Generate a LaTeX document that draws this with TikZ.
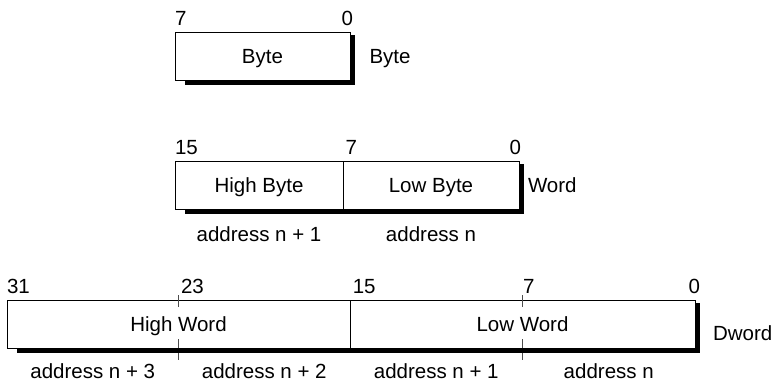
\documentclass[tikz,border=0pt]{standalone}
\usepackage{fontspec}
\setmainfont{Liberation Sans}
\usetikzlibrary{calc,positioning}

\begin{document}
\begin{tikzpicture}[x=1pt,y=-1pt,every node/.style={inner sep=0pt,outer sep=0pt,font=\fontsize{20.5}{24}\selectfont},field/.style={draw,line width=1pt,minimum height=48pt,text height=14.7pt,text depth=0pt},addr/.style={anchor=base,text depth=0pt},tick/.style={draw=black!70,line width=0.7pt}]
\useasboundingbox (0,0) rectangle (775,383);
% Byte
\node [field,minimum width=175pt,anchor=north west] (Byte) at (175,32) {Byte};
\node [anchor=base west] (ByteBit7) at ([yshift=7pt]Byte.north west) {7};
\node [anchor=base east] (ByteBit0) at ([xshift=3pt,yshift=7pt]Byte.north east) {0};
\node [anchor=base west] (ByteName) at ([xshift=19.5pt]Byte.base east) {Byte};
% Word
\node [field,minimum width=168pt,anchor=north west] (HighByte) at (175,161) {High Byte};
\node [field,minimum width=176pt,right=0pt of HighByte] (LowByte) {Low Byte};
\node [anchor=base west] (WordBit15) at ([yshift=7pt]HighByte.north west) {15};
\node [anchor=base west] (WordBit7) at ([xshift=2.5pt,yshift=7pt]LowByte.north west) {7};
\node [anchor=base east] (WordBit0) at ([xshift=2pt,yshift=7pt]LowByte.north east) {0};
\node [anchor=base west] (WordName) at ([xshift=9pt]LowByte.base east) {Word};
\node [addr] (WordAddr1) at ([yshift=-32pt]HighByte.south) {address n + 1};
\node [addr] (WordAddr0) at ([yshift=-32pt]LowByte.south) {address n};
% Dword
\node [field,minimum width=343pt,anchor=north west] (HighWord) at (7,300) {High Word};
\node [field,minimum width=345pt,right=0pt of HighWord] (LowWord) {Low Word};
\draw [tick] ([yshift=5pt]HighWord.north) -- ([yshift=-7pt]HighWord.north);
\draw [tick] ([yshift=9pt]HighWord.south) -- ([yshift=-12pt]HighWord.south);
\draw [tick] ([yshift=5pt]LowWord.north) -- ([yshift=-7pt]LowWord.north);
\draw [tick] ([yshift=9pt]LowWord.south) -- ([yshift=-12pt]LowWord.south);
\node [anchor=base west] (DwordBit31) at ([yshift=7pt]HighWord.north west) {31};
\node [anchor=base west] (DwordBit23) at ([xshift=2.5pt,yshift=7pt]HighWord.north) {23};
\node [anchor=base west] (DwordBit15) at ([xshift=2.8pt,yshift=7pt]LowWord.north west) {15};
\node [anchor=base west] (DwordBit7) at ([xshift=0.5pt,yshift=7pt]LowWord.north) {7};
\node [anchor=base east] (DwordBit0) at ([xshift=5pt,yshift=7pt]LowWord.north east) {0};
\node [anchor=base west] (DwordName) at ([xshift=18pt,yshift=-9pt]LowWord.base east) {Dword};
\node [addr] (DwordAddr3) at ([yshift=-30.5pt]$(HighWord.south west)!0.25!(HighWord.south east)$) {address n + 3};
\node [addr] (DwordAddr2) at ([yshift=-30.5pt]$(HighWord.south west)!0.75!(HighWord.south east)$) {address n + 2};
\node [addr] (DwordAddr1) at ([yshift=-30.5pt]$(LowWord.south west)!0.25!(LowWord.south east)$) {address n + 1};
\node [addr] (DwordAddr0) at ([yshift=-30.5pt]$(LowWord.south west)!0.75!(LowWord.south east)$) {address n};
% shadows
\foreach \Left/\Right in {Byte/Byte,HighByte/LowByte,HighWord/LowWord} {
  \fill ([xshift=10pt]\Left.south west) rectangle ([xshift=4.5pt,yshift=-4.5pt]\Right.south east);
  \fill ([yshift=-3pt]\Right.north east) rectangle ([xshift=4.5pt,yshift=-4.5pt]\Right.south east);
}
\end{tikzpicture}
\end{document}
